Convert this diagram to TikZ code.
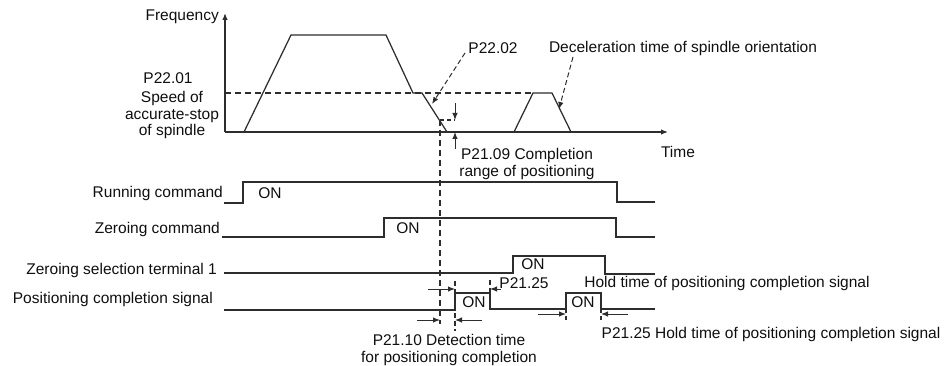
\documentclass[tikz,border=0pt]{standalone}
\usepackage{fontspec}
\setmainfont{Liberation Sans}
\usetikzlibrary{arrows.meta}
\definecolor{ln}{RGB}{45,45,45}
\definecolor{tx}{RGB}{15,15,15}
\begin{document}
\begin{tikzpicture}[x=1pt,y=-1pt,
  lbl/.style={inner sep=0pt,text=tx,font=\fontsize{15.5}{16.5}\selectfont},
  sig/.style={draw=ln,line width=1.25pt},
  dsh/.style={draw=ln,line width=1.1pt,dash pattern=on 6pt off 4pt},
  tip/.style={-{Latex[length=7pt,width=5.5pt]}},
  arr/.style={draw=ln,line width=1pt,tip}]
\useasboundingbox (0,0) rectangle (949,366);
% axes
\coordinate (O) at (225,132);
\coordinate (Ytop) at (225,13);
\coordinate (Xend) at (668,132);
\draw[arr,line width=1.25pt] (O) -- (Ytop);
\draw[arr,line width=1.25pt] (O) -- (Xend);
% dashed level
\draw[dsh] (225,93) -- (533,93);
% frequency profile
\draw[sig] (244,132) -- (291,35) -- (386,35) -- (413,93) -- (422,93) -- (447,132);
\draw[sig] (514,132) -- (533,93) -- (552,93) -- (571,132);
% completion range marks
\draw[dsh,dash pattern=on 4pt off 3pt] (440,120) -- (455,120);
\coordinate (dA) at (455,103);
\coordinate (dB) at (455,120);
\draw[arr] (dA) -- (dB);
\coordinate (uA) at (455,149);
\coordinate (uB) at (455,132);
\draw[arr] (uA) -- (uB);
\draw[dsh] (440,120) -- (440,324);
% labels top
\node[lbl,anchor=east] (freq) at (219,17) {Frequency};
\node[lbl] (p2201) at (168,78) {P22.01};
\node[lbl,align=center] (speed) at (172,115) {Speed of\\accurate-stop\\of spindle};
\node[lbl] (p2202) at (493,48) {P22.02};
\node[lbl] (decel) at (683,48) {Deceleration time of spindle orientation};
\node[lbl] (time) at (678,152) {Time};
\node[lbl,align=center] (p2109) at (527,164) {P21.09 Completion\\range of positioning};
\coordinate (a1) at (465,53);
\coordinate (a2) at (432,104);
\draw[arr,dash pattern=on 5pt off 3pt] (a1) -- (a2);
\coordinate (b1) at (573,57);
\coordinate (b2) at (559,109);
\draw[arr,dash pattern=on 5pt off 3pt] (b1) -- (b2);
% signal labels
\node[lbl,anchor=east] (run) at (223,193) {Running command};
\node[lbl,anchor=east] (zer) at (220,229) {Zeroing command};
\node[lbl,anchor=east] (zst) at (217,270) {Zeroing selection terminal 1};
\node[lbl,anchor=east] (pcs) at (213,299) {Positioning completion signal};
% signals
\draw[sig] (224,203) -- (243,203) -- (243,182) -- (617,182) -- (617,202) -- (655,202);
\draw[sig] (222,237) -- (384,237) -- (384,218) -- (616,218) -- (616,237) -- (655,237);
\draw[sig] (224,273) -- (513,273) -- (513,256) -- (605,256) -- (605,274) -- (655,274);
\draw[sig] (224,310) -- (455,310) -- (455,293) -- (490,293) -- (490,309) -- (566,309) -- (566,293) -- (601,293) -- (601,309) -- (655,309);
\node[lbl] (on1) at (270,193) {ON};
\node[lbl] (on2) at (408,228) {ON};
\node[lbl] (on3) at (533,264) {ON};
\node[lbl] (on4) at (474,302) {ON};
\node[lbl] (on5) at (583,302) {ON};
% timing marks
\draw[dsh,dash pattern=on 5pt off 3pt] (455,281) -- (455,331);
\draw[dsh,dash pattern=on 5pt off 3pt] (490,280) -- (490,293);
\draw[dsh,dash pattern=on 4pt off 3pt] (566,309) -- (566,321);
\draw[dsh,dash pattern=on 4pt off 3pt] (601,309) -- (601,321);
\coordinate (c1) at (428,289); \coordinate (c2) at (455,289);
\draw[arr] (c1) -- (c2);
\coordinate (c3) at (501,289); \coordinate (c4) at (490,289);
\draw[arr] (c3) -- (c4);
\coordinate (c5) at (417,320); \coordinate (c6) at (440,320);
\draw[arr] (c5) -- (c6);
\coordinate (c7) at (482,320); \coordinate (c8) at (455,320);
\draw[arr] (c7) -- (c8);
\coordinate (c9) at (538,314); \coordinate (c10) at (566,314);
\draw[arr] (c9) -- (c10);
\coordinate (c11) at (628,314); \coordinate (c12) at (601,314);
\draw[arr] (c11) -- (c12);
% bottom labels
\node[lbl] (p2125a) at (524,283) {P21.25};
\node[lbl] (hold1) at (727,283) {Hold time of positioning completion signal};
\node[lbl] (hold2) at (771,334) {P21.25 Hold time of positioning completion signal};
\node[lbl,align=center] (p2110) at (449,350) {P21.10 Detection time\\for positioning completion};
\end{tikzpicture}
\end{document}
